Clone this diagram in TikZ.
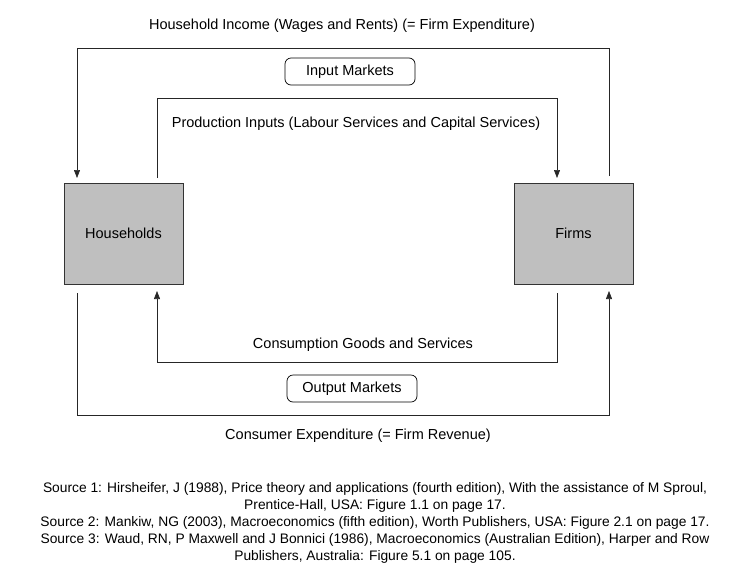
\documentclass[tikz,border=0pt]{standalone}
\usepackage{fontspec}
\setmainfont{Liberation Sans}
\usetikzlibrary{arrows.meta}
\begin{document}
\begin{tikzpicture}[x=1pt,y=-1pt,
  agent/.style={draw=black!80,line width=0.9pt,fill=black!25,minimum width=119pt,minimum height=101pt,inner sep=0pt,font=\fontsize{14.5pt}{17pt}\selectfont},
  market/.style={draw=black,line width=0.7pt,rounded corners=6pt,minimum width=130pt,minimum height=27pt,inner sep=0pt,font=\fontsize{14.5pt}{17pt}\selectfont},
  lbl/.style={inner sep=0pt,font=\fontsize{14.5pt}{17pt}\selectfont},
  flow/.style={line width=0.6pt,black!85},
  tip/.style={-{Triangle[length=8pt,width=6pt]}}
]
\useasboundingbox (0,0) rectangle (733,579);
\node[agent] (hh) at (123.5,233.5) {Households};
\node[agent] (fm) at (573.5,233.5) {Firms};
\node[market] (im) at (350,71.5) {Input Markets};
\node[market] (om) at (352,388.5) {Output Markets};
\node[lbl] (t1) at (342,26) {Household Income (Wages and Rents) (= Firm Expenditure)};
\node[lbl] (t2) at (356,124) {Production Inputs (Labour Services and Capital Services)};
\node[lbl] (t3) at (363,345) {Consumption Goods and Services};
\node[lbl] (t4) at (358,436) {Consumer Expenditure (= Firm Revenue)};
\coordinate (a1) at (609,176);
\coordinate (a2) at (157,178);
\coordinate (b1) at (557,293);
\coordinate (b2) at (77,293);
% top outer: firms -> households
\draw[flow,tip] (a1) |- (77,48) -- (77,178);
% top inner: households -> firms
\draw[flow,tip] (a2) |- (557,98) -- (557,178);
% bottom inner: firms -> households
\draw[flow,tip] (b1) |- (157,362) -- (157,291);
% bottom outer: households -> firms
\draw[flow,tip] (b2) |- (609,415) -- (609,291);
\node[align=center,inner sep=0pt,font=\fontsize{13.8pt}{17pt}\selectfont] (src) at (375,523) {Source 1: Hirsheifer, J (1988), Price theory and applications (fourth edition), With the assistance of M Sproul,\\Prentice-Hall, USA: Figure 1.1 on page 17.\\Source 2: Mankiw, NG (2003), Macroeconomics (fifth edition), Worth Publishers, USA: Figure 2.1 on page 17.\\Source 3: Waud, RN, P Maxwell and J Bonnici (1986), Macroeconomics (Australian Edition), Harper and Row\\Publishers, Australia: Figure 5.1 on page 105.};
\end{tikzpicture}
\end{document}
